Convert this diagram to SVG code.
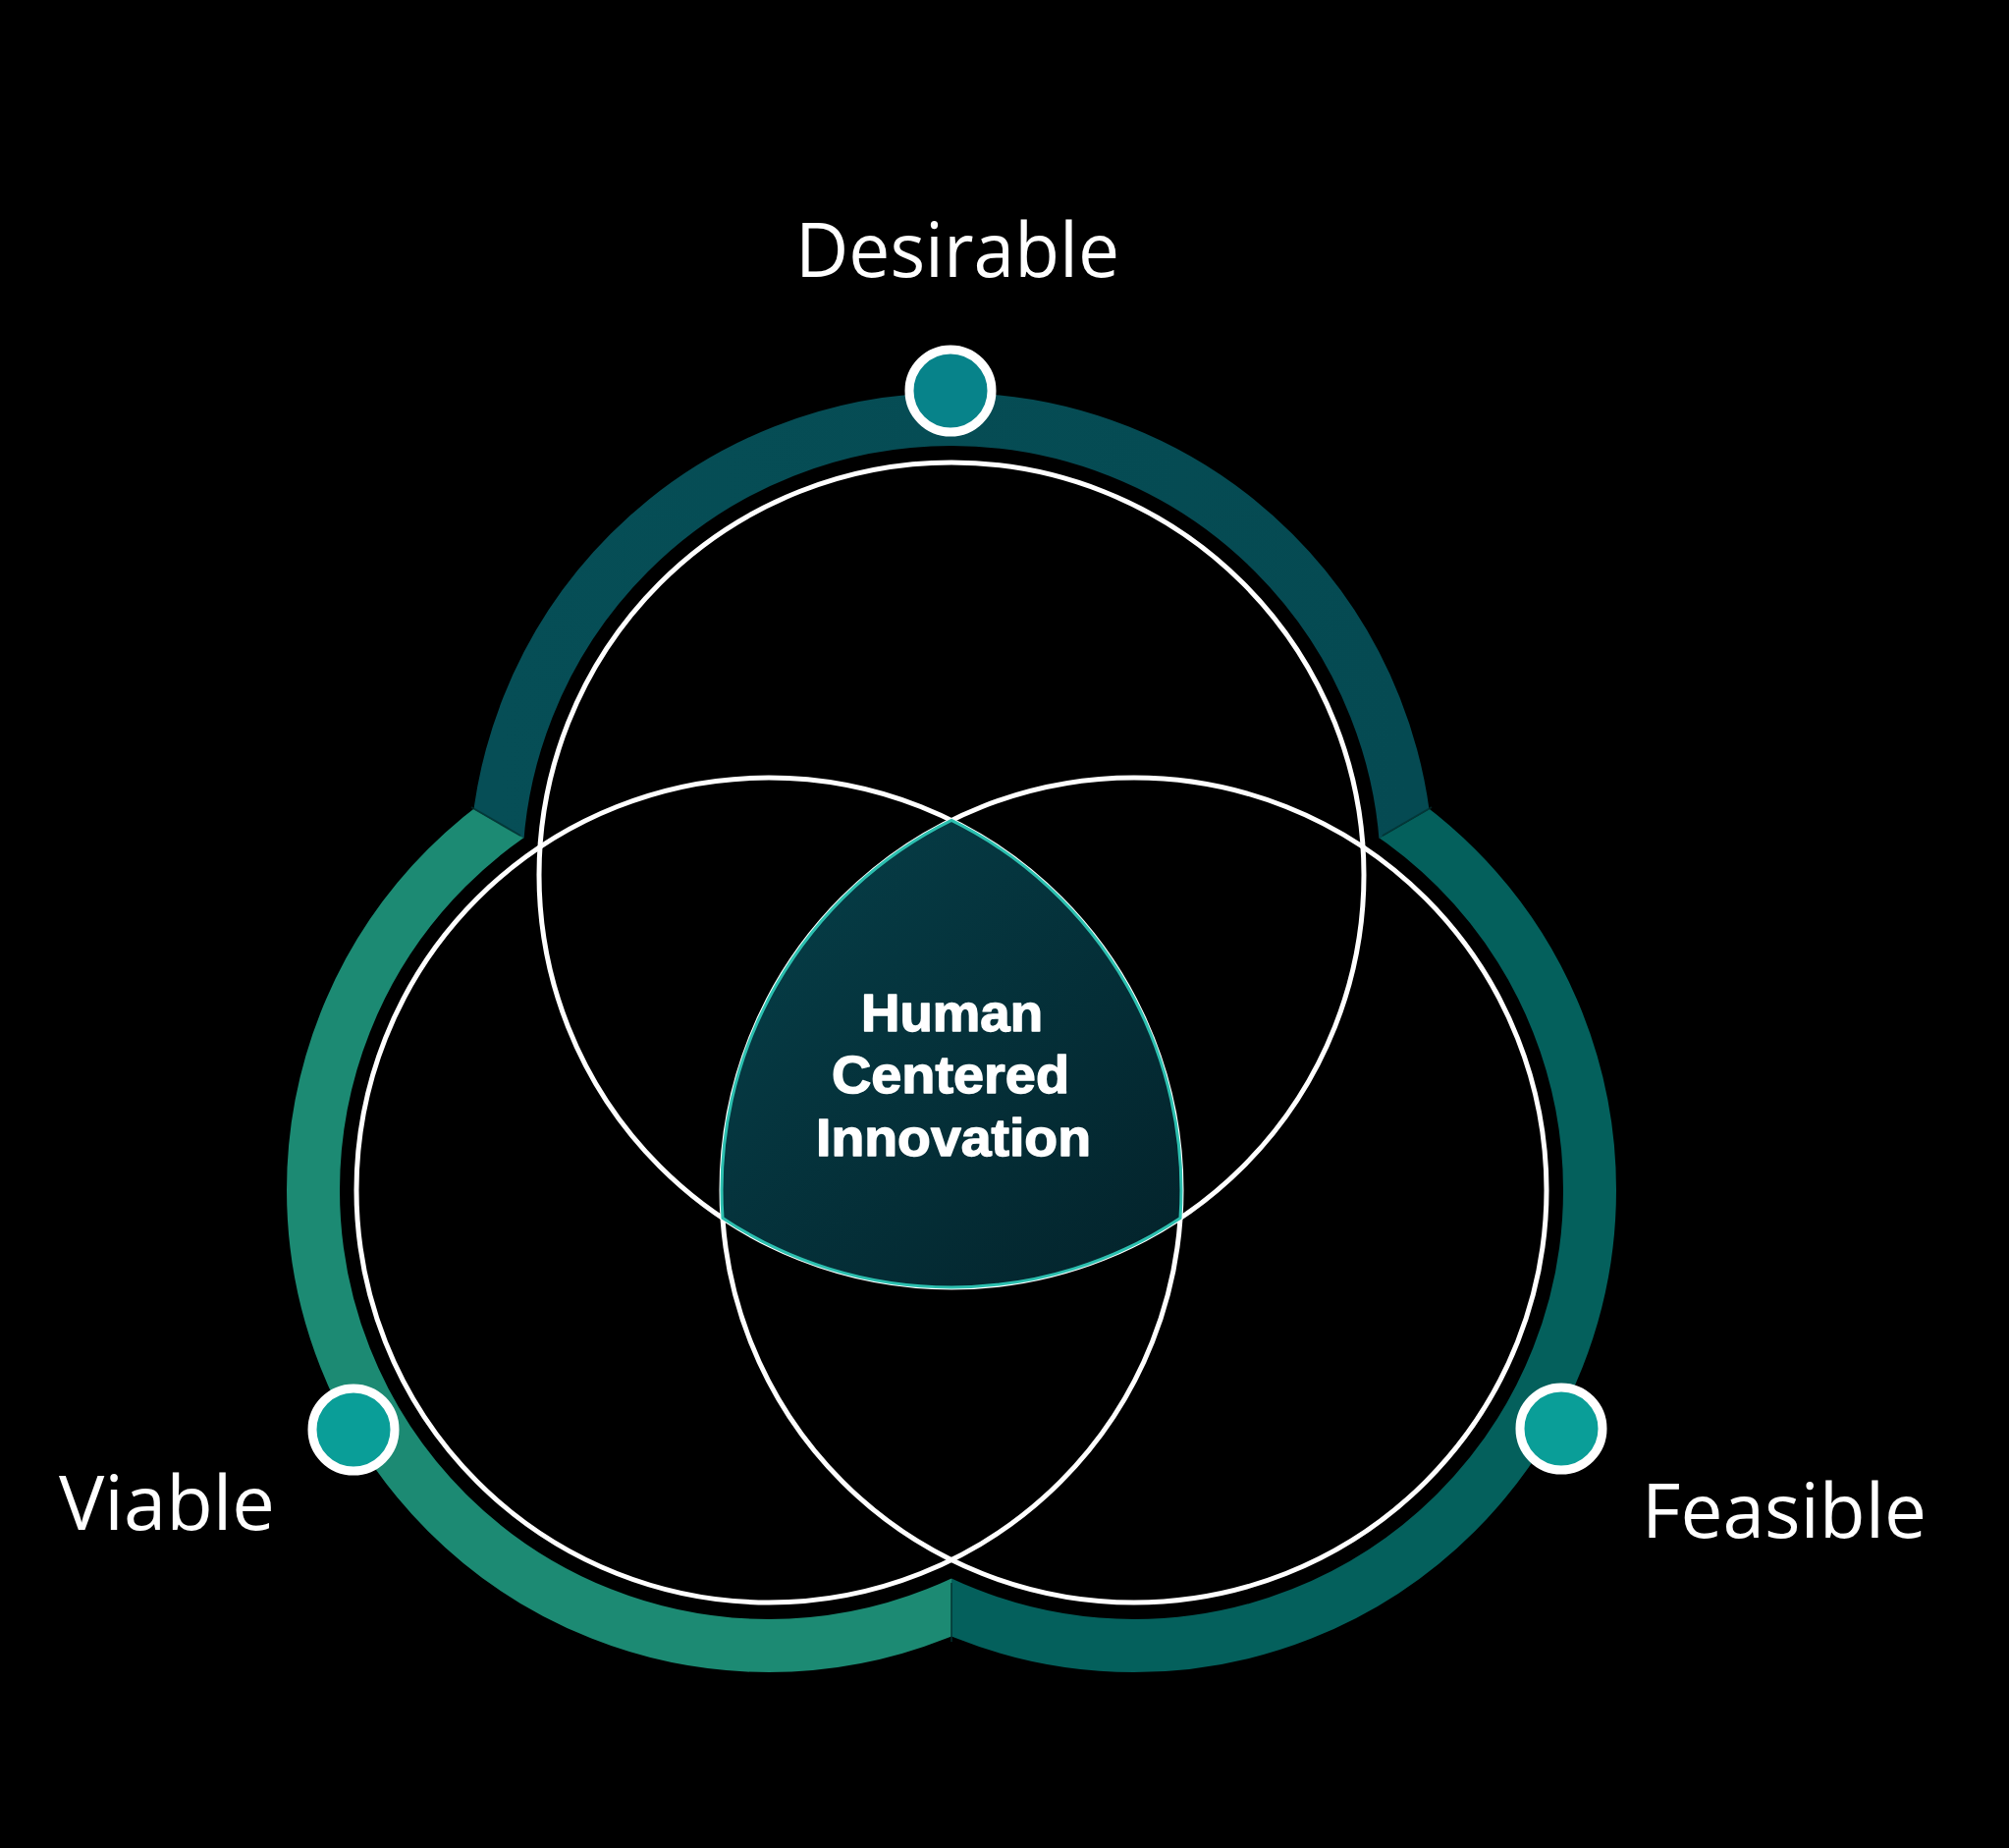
<svg xmlns="http://www.w3.org/2000/svg" width="2046" height="1882" viewBox="0 0 2046 1882">
<style>
.ring{fill:none;stroke-width:54}
.seam{stroke:#03302f;stroke-width:2;opacity:0.7}
.venn{fill:none;stroke:#ffffff;stroke-width:5}
.dot{stroke:#ffffff;stroke-width:9}
.label{font-family:"Open Sans","Liberation Sans",sans-serif;font-size:76px;fill:#ffffff;text-anchor:middle}
.center{font-family:"Liberation Sans","Open Sans",sans-serif;font-weight:700;font-size:53px;fill:#ffffff;stroke:#ffffff;stroke-width:1.4;stroke-linejoin:round;text-anchor:middle}
</style>
<defs>
<clipPath id="clipTop"><polygon points="969,1105 -330,355 -330,-500 2268,-500 2268,355"/></clipPath>
<clipPath id="clipLeft"><polygon points="969,1105 -330,355 -330,2700 969,2700"/></clipPath>
<clipPath id="clipRight"><polygon points="969,1105 2268,355 2268,2700 969,2700"/></clipPath>
<linearGradient id="gTop" x1="0" y1="0" x2="1" y2="0">
<stop offset="0" stop-color="#064e56"/><stop offset="1" stop-color="#054a52"/>
</linearGradient>
<linearGradient id="gLens" x1="0" y1="0" x2="1" y2="1">
<stop offset="0" stop-color="#06404a"/><stop offset="1" stop-color="#03222a"/>
</linearGradient>
</defs>
<rect x="0" y="0" width="2046" height="1882" fill="#000000"/>

<g id="rings">
<circle class="ring" cx="969" cy="891" r="464" stroke="url(#gTop)" clip-path="url(#clipTop)"/>
<circle class="ring" cx="783" cy="1212" r="464" stroke="#1c8a73" clip-path="url(#clipLeft)"/>
<circle class="ring" cx="1155" cy="1212" r="464" stroke="#04605c" clip-path="url(#clipRight)"/>
<line class="seam" x1="480" y1="822" x2="530" y2="851"/>
<line class="seam" x1="1458" y1="822" x2="1408" y2="851"/>
<line class="seam" x1="969" y1="1612" x2="969" y2="1672"/>
</g>

<g id="circles">
<circle id="circle-desirable" class="venn" cx="969" cy="891" r="420"/>
<circle id="circle-viable" class="venn" cx="783" cy="1212" r="420"/>
<circle id="circle-feasible" class="venn" cx="1155" cy="1212" r="420"/>
</g>

<g id="center-node">
<path d="M969 835.4 A420 420 0 0 0 736 1240.4 A420 420 0 0 0 1202 1240.4 A420 420 0 0 0 969 835.4 Z" fill="url(#gLens)" stroke="#2cc0b0" stroke-width="3"/>
<text class="center" x="969.5" y="1050" textLength="185" lengthAdjust="spacingAndGlyphs">Human</text>
<text class="center" x="968" y="1113" textLength="242" lengthAdjust="spacingAndGlyphs">Centered</text>
<text class="center" x="971" y="1177" textLength="280" lengthAdjust="spacingAndGlyphs">Innovation</text>
</g>

<g id="node-desirable">
<circle class="dot" cx="968" cy="398" r="42" fill="#07838a"/>
<text class="label" x="975" y="282" textLength="330" lengthAdjust="spacingAndGlyphs">Desirable</text>
</g>

<g id="node-viable">
<circle class="dot" cx="360" cy="1456" r="42" fill="#0a9e98"/>
<text class="label" x="170" y="1558" textLength="220" lengthAdjust="spacingAndGlyphs">Viable</text>
</g>

<g id="node-feasible">
<circle class="dot" cx="1590" cy="1455" r="42" fill="#0a9e98"/>
<text class="label" x="1817" y="1566" textLength="290" lengthAdjust="spacingAndGlyphs">Feasible</text>
</g>
</svg>
